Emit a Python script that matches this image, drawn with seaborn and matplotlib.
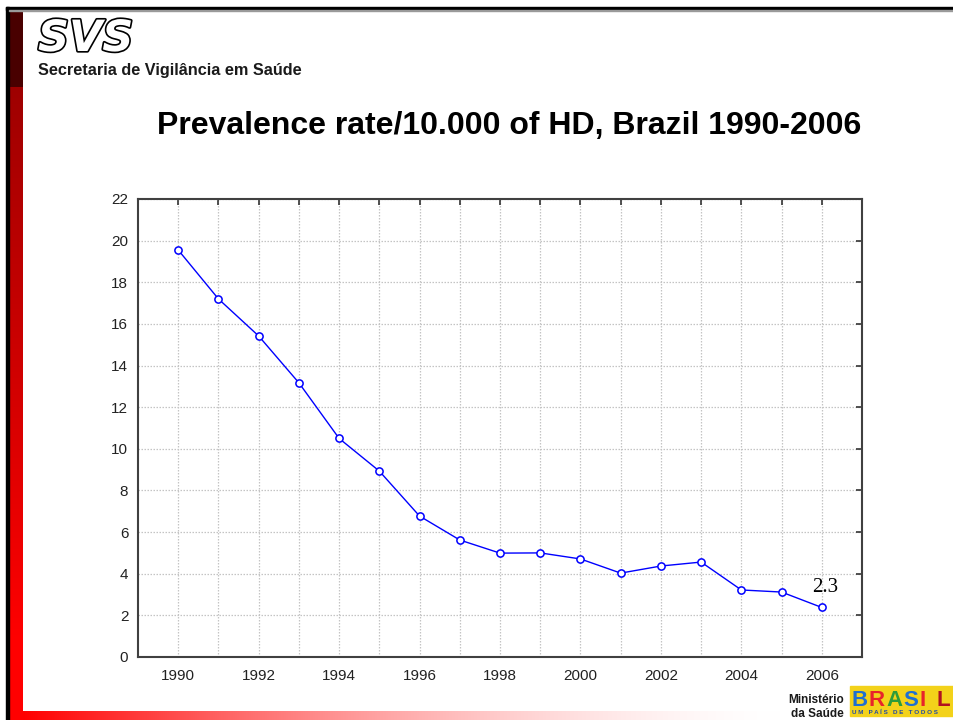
import numpy as np
import pandas as pd
import matplotlib
matplotlib.use("Agg")
import matplotlib.pyplot as plt
import matplotlib.patheffects as pe
from matplotlib.patches import Rectangle
import seaborn as sns

# ---- data ----
years = [1990, 1991, 1992, 1993, 1994, 1995, 1996, 1997, 1998,
         1999, 2000, 2001, 2002, 2003, 2004, 2005, 2006]
prevalence = [19.55, 17.2, 15.42, 13.17, 10.5, 8.93, 6.77, 5.62, 4.99,
              5.0, 4.71, 4.03, 4.37, 4.56, 3.22, 3.12, 2.38]
x_tick_labels = ["1990", "1992", "1994", "1996", "1998", "2000", "2002", "2004", "2006"]
y_ticks = [0, 2, 4, 6, 8, 10, 12, 14, 16, 18, 20, 22]
title = "Prevalence rate/10.000 of HD, Brazil 1990-2006"
last_label = "2.3"

df = pd.DataFrame({"year": years, "prevalence": prevalence})

sns.set_style("white")
plt.rcParams["font.family"] = ["Liberation Sans", "DejaVu Sans"]

W, H = 954, 720
fig = plt.figure(figsize=(W / 100, H / 100), dpi=100)
fig.patch.set_facecolor("white")

# ---- slide decoration layer (pixel coordinates) ----
bg = fig.add_axes([0, 0, 1, 1], zorder=0)
bg.set_axis_off()

# left vertical bar gradient
rows = np.arange(8, 720)
col = np.zeros((len(rows), 1, 3))
for i, y in enumerate(rows):
    if y < 87:
        col[i, 0] = [0.29, 0.0, 0.0]
    else:
        t = min(1.0, (y - 87) / (640 - 87))
        col[i, 0] = [0.62 + 0.38 * t, 0.0, 0.0]
bg.imshow(col, extent=[9, 23, 720, 8], aspect="auto", interpolation="bilinear", zorder=1)

# bottom bar gradient
xs = np.arange(23, 954)
rowc = np.ones((1, len(xs), 3))
for i, x in enumerate(xs):
    t = min(1.0, max(0.0, (x - 23) / (780 - 23)))
    g = 1.0 - (1.0 - t) ** 1.6
    rowc[0, i] = [1.0, g, g]
bg.imshow(rowc, extent=[23, 954, 720, 711], aspect="auto", interpolation="bilinear", zorder=1)

# black lines
bg.add_patch(Rectangle((6, 7), 3, 713, color="black", zorder=2))
bg.add_patch(Rectangle((6, 7), 948, 3, color="black", zorder=2))
bg.add_patch(Rectangle((9, 10), 945, 1, color="#9a9a9a", zorder=2))

# SVS logo
bg.text(38, 51, "SVS", fontsize=31, fontweight="bold", fontstyle="italic",
        family=["DejaVu Sans"], color="white", ha="left", va="baseline",
        path_effects=[pe.withStroke(linewidth=2.4, foreground="black")], zorder=3)
bg.text(38, 75, "Secretaria de Vigilância em Saúde", fontsize=11.7, fontweight="bold",
        color="#1a1a1a", ha="left", va="baseline", zorder=3)

# title
bg.text(509, 126, title, fontsize=23, fontweight="bold", color="black",
        ha="center", va="center", zorder=3)

# Ministério da Saúde
bg.text(844, 703, "Ministério", fontsize=8.5, fontweight="bold", color="#1a1a1a",
        ha="right", va="baseline", zorder=3)
bg.text(844, 717, "da Saúde", fontsize=8.5, fontweight="bold", color="#1a1a1a",
        ha="right", va="baseline", zorder=3)

# BRASIL logo (approximate)
letters = ["B", "R", "A", "S", "I", "L"]
lcolors = ["#1f6fd1", "#e8232b", "#2d9b3a", "#1f6fd1", "#e8232b", "#b01020"]
bg.add_patch(Rectangle((850, 686), 104, 21, color="#f3d21a", zorder=2))
lx = 852
for ch, c in zip(letters, lcolors):
    bg.text(lx, 706, ch, fontsize=16, fontweight="bold", color=c, ha="left",
            va="baseline", zorder=3)
    lx += 17
bg.add_patch(Rectangle((850, 707), 104, 9, color="#f3d21a", zorder=2))
bg.text(852, 714.5, "U M   P A Í S   D E   T O D O S", fontsize=4.5, fontweight="bold",
        color="#1f4aa8", ha="left", va="baseline", zorder=3)

bg.set_xlim(0, W)
bg.set_ylim(H, 0)

# ---- chart ----
left, right, top, bottom = 138, 862, 199, 657
ax = fig.add_axes([left / W, (H - bottom) / H, (right - left) / W, (bottom - top) / H], zorder=2)
ax.set_facecolor("white")

sns.lineplot(data=df, x="year", y="prevalence", ax=ax, color="#0000ff", linewidth=1.0,
             marker="o", markersize=5.2, markerfacecolor="white",
             markeredgecolor="#0000ff", markeredgewidth=1.1)

ax.set_xlim(1989, 2007)
ax.set_ylim(0, 22)
ax.set_xticks(years)
ax.set_xticklabels([str(y) if str(y) in x_tick_labels else "" for y in years])
ax.set_yticks(y_ticks)
ax.set_yticklabels([str(v) for v in y_ticks])
ax.set_xlabel("")
ax.set_ylabel("")

ax.grid(True, which="major", color="#c4c4c4", linestyle=(0, (1.2, 1.2)), linewidth=0.9)
ax.set_axisbelow(True)
ax.tick_params(axis="both", which="major", direction="in", length=4, width=1.2,
               colors="#333333", labelcolor="#222222", labelsize=11,
               top=True, right=True)
ax.tick_params(axis="x", pad=9)
ax.tick_params(axis="y", pad=7)
for s in ax.spines.values():
    s.set_visible(True)
    s.set_color("#404040")
    s.set_linewidth(1.5)

ax.annotate(last_label, xy=(years[-1], prevalence[-1]), xytext=(-7, 11),
            textcoords="offset points", fontsize=15, family=["Liberation Serif"],
            color="black", ha="left", va="baseline")

fig.savefig("out.png", dpi=100)
